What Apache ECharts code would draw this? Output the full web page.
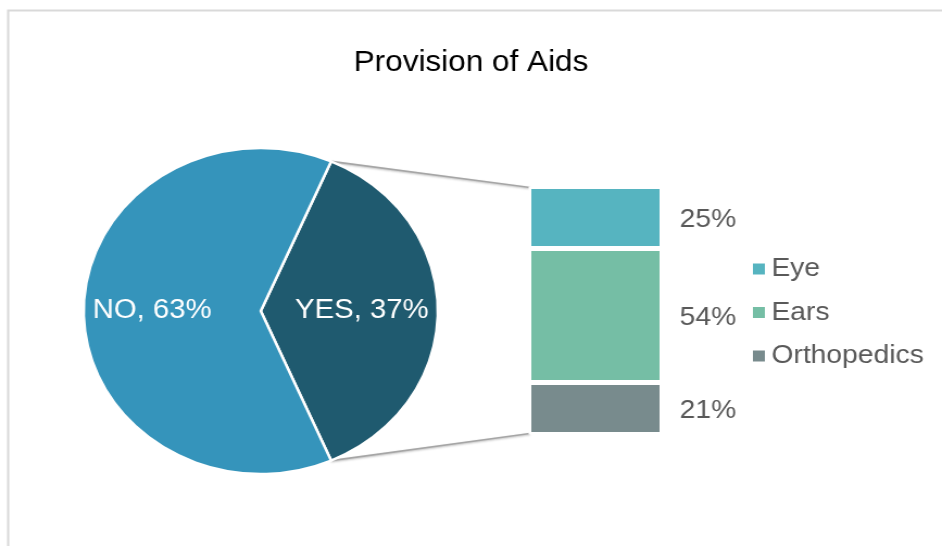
<!DOCTYPE html>
<html>
<head>
<meta charset="utf-8">
<script src="https://cdn.jsdelivr.net/npm/echarts@6/dist/echarts.min.js"></script>
<style>
  html, body { margin: 0; padding: 0; background: #fff; overflow: hidden; }
  #wrap { width: 942px; height: 546px; overflow: hidden; }
  #chart { width: 867px; height: 546px; transform: scaleX(1.0865); transform-origin: 0 0; }
</style>
</head>
<body>
<div id="wrap"><div id="chart"></div></div>
<script>
// Share of respondents who received aids
const pieNames = ['YES', 'NO'];
const pieValues = [37, 63];

// Breakdown of the YES share by aid type (legend order)
const aidNames = ['Eye', 'Ears', 'Orthopedics'];
const aidValues = [25, 54, 21];

const FONT = '"Liberation Sans", Arial, sans-serif';
const pieColors = { YES: '#1F5A6F', NO: '#3594BB' };
// label padding nudges each slice label outward from the slice centre
const pieLabelPadding = { YES: [2, 0, 0, 17], NO: [2, 31, 0, 0] };
const aidColors = { Eye: '#56B4C0', Ears: '#75BEA5', Orthopedics: '#788B8D' };

const PIE_CENTER = [240, 311];
const PIE_RADIUS = 163;
const YES_SPAN = 360 * pieValues[0] / (pieValues[0] + pieValues[1]);
const START_ANGLE = YES_SPAN / 2;   // YES slice centred on the right-hand side

const BAR_GRID = { left: 486.5, top: 186.5, width: 123, height: 248 };

const chart = echarts.init(document.getElementById('chart'), null, { renderer: 'canvas' });

// stacked from the bottom: Orthopedics, Ears, Eye
const stackOrder = aidNames.slice().reverse();
const barSeries = stackOrder.map(name => ({
  name: name,
  type: 'bar',
  stack: 'aids',
  barWidth: '100%',
  data: [aidValues[aidNames.indexOf(name)]],
  itemStyle: { color: aidColors[name], borderColor: '#ffffff', borderWidth: 2.5 },
  label: {
    show: true,
    position: 'right',
    distance: 16,
    offset: [0, 2],
    formatter: '{c}%',
    color: '#595959',
    fontSize: 26,
    fontFamily: FONT
  },
  emphasis: { disabled: true },
  silent: true
}));

chart.setOption({
  animation: false,
  backgroundColor: '#ffffff',
  title: {
    text: 'Provision of Aids',
    left: 'center',
    top: 43,
    textStyle: { color: '#000000', fontSize: 29, fontWeight: 'normal', fontFamily: FONT }
  },
  legend: {
    orient: 'vertical',
    left: 688,
    top: 249,
    icon: 'rect',
    itemWidth: 11,
    itemHeight: 11,
    itemGap: 13.5,
    data: aidNames,
    itemStyle: { borderWidth: 0 },
    textStyle: { color: '#595959', fontSize: 26, lineHeight: 30, fontFamily: FONT, padding: [0, 0, 0, 1] },
    selectedMode: false
  },
  grid: BAR_GRID,
  xAxis: { type: 'category', data: [''], show: false },
  yAxis: { type: 'value', min: 0, max: 100, show: false },
  series: [
    {
      type: 'pie',
      center: PIE_CENTER,
      radius: PIE_RADIUS,
      startAngle: START_ANGLE,
      clockwise: true,
      data: pieNames.map((n, i) => ({
        name: n,
        value: pieValues[i],
        itemStyle: { color: pieColors[n] },
        label: { padding: pieLabelPadding[n] }
      })),
      itemStyle: { borderColor: '#ffffff', borderWidth: 2.5 },
      label: {
        show: true,
        position: 'inside',
        formatter: '{b}, {c}%',
        color: '#ffffff',
        fontSize: 27,
        fontFamily: FONT,
        overflow: 'none'
      },
      labelLine: { show: false },
      emphasis: { disabled: true },
      silent: true
    }
  ].concat(barSeries)
});

// Connector lines from the YES slice edges to the corners of the stacked bar
function connectors() {
  const toRad = Math.PI / 180;
  const a1 = START_ANGLE * toRad;
  const a2 = (START_ANGLE - YES_SPAN) * toRad;
  const p1 = [PIE_CENTER[0] + PIE_RADIUS * Math.cos(a1), PIE_CENTER[1] - PIE_RADIUS * Math.sin(a1)];
  const p2 = [PIE_CENTER[0] + PIE_RADIUS * Math.cos(a2), PIE_CENTER[1] - PIE_RADIUS * Math.sin(a2)];
  const yTop = chart.convertToPixel({ yAxisIndex: 0 }, 100);
  const yBottom = chart.convertToPixel({ yAxisIndex: 0 }, 0);
  const xLeft = BAR_GRID.left + 1.25;
  const style = { stroke: '#A6A6A6', lineWidth: 1.6, shadowBlur: 2, shadowColor: 'rgba(0,0,0,0.25)', shadowOffsetY: 1 };
  return [
    { type: 'rect', silent: true, z: 0,
      shape: { x: 7.5, y: 10.5, width: 1200, height: 800 },
      style: { fill: null, stroke: '#D9D9D9', lineWidth: 2 } },
    { type: 'line', silent: true, z: 1,
      shape: { x1: p1[0], y1: p1[1], x2: xLeft, y2: yTop + 1 }, style: style },
    { type: 'line', silent: true, z: 1,
      shape: { x1: p2[0], y1: p2[1], x2: xLeft, y2: yBottom - 1 }, style: style }
  ];
}

chart.setOption({ graphic: connectors() });
</script>
</body>
</html>
